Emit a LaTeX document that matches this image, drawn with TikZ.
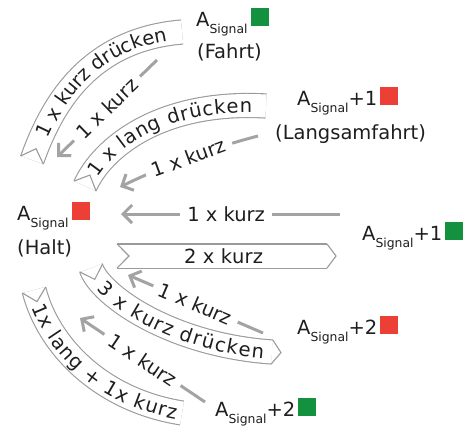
\documentclass[tikz,border=0pt]{standalone}
\usepackage{fontspec}
\setmainfont{DejaVu Sans}
\usetikzlibrary{arrows.meta,decorations.markings,decorations.text}

\definecolor{ink}{HTML}{1E1E1E}
\definecolor{rimgray}{HTML}{9A9A9A}
\definecolor{arrowgray}{HTML}{A3A3A3}
\definecolor{sigred}{HTML}{EC4036}
\definecolor{siggreen}{HTML}{13913F}

\newcommand\sgl{\raisebox{-7pt}{\fontsize{12.4pt}{14pt}\selectfont Signal}}
\newcommand\lamp[1]{\hspace{3pt}\textcolor{#1}{\rule{18pt}{18pt}}}
\newcommand\bigtext{\fontsize{19.5pt}{22pt}\selectfont}

\tikzset{
  lbl/.style={anchor=base west, inner sep=0pt, text=ink, font=\bigtext},
  move/.style={draw=arrowgray, line width=3pt,
    -{Straight Barb[length=9pt, width=18pt]}},
  movelabel/.style={sloped, fill=white, text=ink, font=\bigtext,
    inner xsep=7pt, inner ysep=1pt},
  % banner with a notched tail, a pointed head and its text spread along it
  ribbon/.style n args={3}{draw=rimgray, line width=1.1pt, double=white,
    double distance=23pt, line cap=butt,
    postaction={decorate, decoration={markings,
      mark=at position 0 with {\draw[rimgray, line width=1.1pt, line join=miter]
        (0pt,12.05pt) -- (12pt,0pt) -- (0pt,-12.05pt);},
      mark=at position 1 with {\filldraw[fill=white, draw=rimgray, line width=1.1pt, line join=miter]
        (0pt,12.05pt) -- (9pt,0pt) -- (0pt,-12.05pt);}}},
    postaction={decorate, decoration={text along path,
      text align={fit to path, left indent=#2, right indent=#3},
      raise=-7pt, text color=ink, text={|\bigtext|#1}}}},
}

\begin{document}
\begin{tikzpicture}[x=1pt, y=-1pt]
  \useasboundingbox (0,0) rectangle (475,429);

  % signal aspects
  \node[lbl] (halt)     at (17,220)  {A\sgl\lamp{sigred}};
  \node[lbl] (halttxt)  at (17,254)  {(Halt)};
  \node[lbl] (fahrt)    at (196,26)  {A\sgl\lamp{siggreen}};
  \node[lbl] (fahrttxt) at (197,58)  {(Fahrt)};
  \node[lbl] (langsam)  at (297,105) {A\sgl+1\lamp{sigred}};
  \node[lbl] (langtxt)  at (275,139) {(Langsamfahrt)};
  \node[lbl] (plusone)  at (362,240) {A\sgl+1\lamp{siggreen}};
  \node[lbl] (plustwo)  at (297,334) {A\sgl+2\lamp{sigred}};
  \node[lbl] (plustwog) at (215,416) {A\sgl+2\lamp{siggreen}};

  % connector ends
  \coordinate (fahrtOut)  at (157,60);
  \coordinate (haltInA)   at (57,157);
  \coordinate (langOut)   at (258,136);
  \coordinate (haltInB)   at (120,187);
  \coordinate (oneOut)    at (340,214);
  \coordinate (haltInC)   at (121,214);
  \coordinate (twoOut)    at (263,333);
  \coordinate (haltInD)   at (128,275);
  \coordinate (twoGOut)   at (205,402);
  \coordinate (haltInE)   at (80,318);

  % short presses back to Halt
  \draw[move] (fahrtOut) -- node[movelabel, midway] {1 x kurz} (haltInA);
  \draw[move] (langOut) .. controls (212,148) and (165,165) .. node[movelabel, midway] {1 x kurz} (haltInB);
  \draw[move] (oneOut) -- node[movelabel, pos=0.52] {1 x kurz} (haltInC);
  \draw[move] (twoOut) -- node[movelabel, midway] {1 x kurz} (haltInD);
  \draw[move] (twoGOut) -- node[movelabel, midway] {1 x kurz} (haltInE);

  % ribbons from Halt to the other aspects
  \coordinate (rA0) at (32,160);   \coordinate (rA1) at (182,32);
  \coordinate (rB0) at (85,186);   \coordinate (rB1) at (266,106);
  \coordinate (rC0) at (117,256);  \coordinate (rC1) at (327,256);
  \coordinate (rD0) at (91,268);   \coordinate (rD1) at (272,352);
  \coordinate (rE0) at (34,290);   \coordinate (rE1) at (182,413);

  \path[ribbon={1 x kurz drücken}{26pt}{16pt}] (rA0) .. controls (50,110) and (85,40) .. (rA1);
  \path[ribbon={1 x lang drücken}{14pt}{14pt}] (rB0) .. controls (102,148) and (160,100) .. (rB1);
  \path[ribbon={2 x kurz}{67pt}{64pt}] (rC0) -- (rC1);
  \path[ribbon={3 x kurz drücken}{20pt}{8pt}] (rD0) .. controls (100,295) and (170,345) .. (rD1);
  \path[ribbon={1x lang + 1x kurz}{15pt}{5pt}] (rE0) .. controls (48,345) and (100,400) .. (rE1);
\end{tikzpicture}
\end{document}
